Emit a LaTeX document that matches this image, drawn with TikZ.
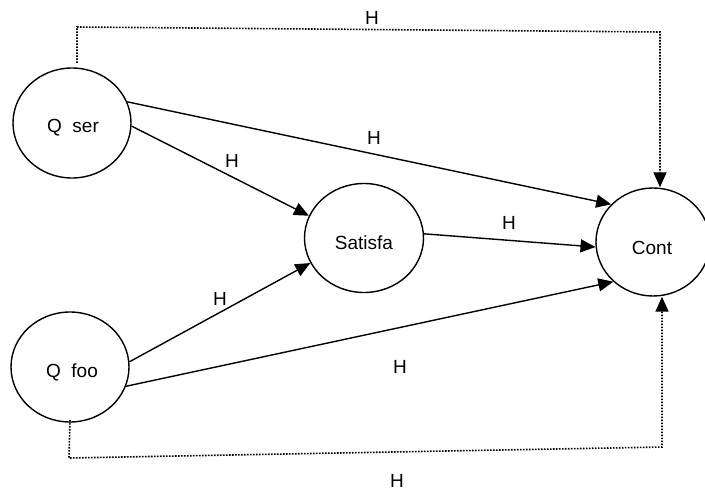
\documentclass[tikz,border=0pt]{standalone}
\usepackage{fontspec}
\setmainfont{Liberation Sans}
\usetikzlibrary{arrows.meta,shapes.geometric}
\begin{document}
\begin{tikzpicture}[x=1pt,y=-1pt,
  var/.style={ellipse,draw,line width=1.4pt,inner sep=0pt},
  arr/.style={line width=1.4pt,-{Triangle[length=15pt,width=13pt]}},
  dotarr/.style={line width=1.6pt,dash pattern=on 1.6pt off 1.4pt,-{Triangle[length=15pt,width=13pt]}},
  lab/.style={font=\fontsize{19}{22}\selectfont,inner sep=0pt}]
\useasboundingbox (0,0) rectangle (705,492);
\node[var,minimum width=118pt,minimum height=110pt] (qser) at (72,123) {};
\node[var,minimum width=118pt,minimum height=110pt] (qfoo) at (70,367) {};
\node[var,minimum width=119pt,minimum height=109pt] (sat) at (364,238) {};
\node[var,minimum width=114pt,minimum height=108pt] (cont) at (653,242) {};
\node[lab] (tqser) at (73,128) {Q\ \ ser};
\node[lab] (tqfoo) at (72,372) {Q\ \ foo};
\node[lab] (tsat) at (364,243) {Satisfa};
\node[lab] (tcont) at (652,248) {Cont};
\draw[arr] (qser.21) -- (cont.138);
\draw[arr] (qser.-3) -- (sat.158);
\draw[arr] (qfoo.5) -- (sat.205);
\draw[arr] (qfoo.-19) -- (cont.225);
\draw[arr] (sat.4) -- (cont.185);
\coordinate (t0) at (77,63);
\coordinate (t1) at (77,27);
\coordinate (t2) at (660,32);
\coordinate (b0) at (70,420);
\coordinate (b1) at (69,458);
\coordinate (b2) at (662,447);
\draw[dotarr] (t0) -- (t1) -- (t2) -- (t2 |- cont.north);
\draw[dotarr] (b0) -- (b1) -- (b2) -- (b2 |- cont.south);
\node[lab] (l1) at (372,18) {H};
\node[lab] (l2) at (374,138) {H};
\node[lab] (l3) at (232,161) {H};
\node[lab] (l4) at (220,299) {H};
\node[lab] (l5) at (400,367) {H};
\node[lab] (l6) at (509,223) {H};
\node[lab] (l7) at (397,481) {H};
\end{tikzpicture}
\end{document}
